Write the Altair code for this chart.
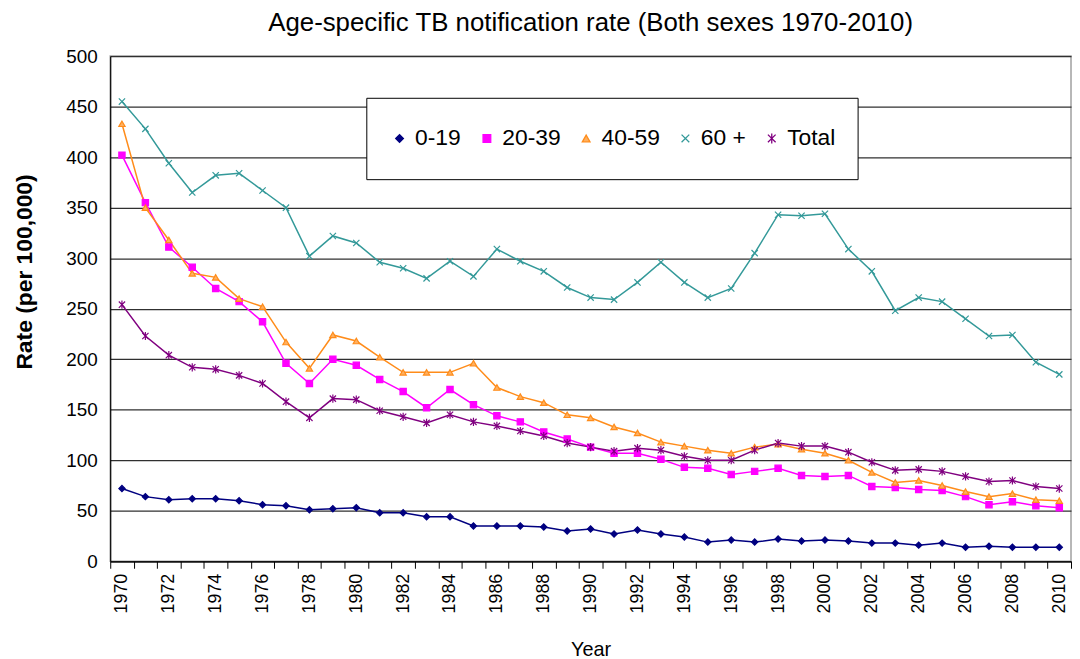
import altair as alt
import pandas as pd

years = list(range(1970, 2011))
series_names = ["0-19", "20-39", "40-59", "60 +", "Total"]

v_0_19 = [72, 64, 61, 62, 62, 60, 56, 55, 51, 52, 53, 48, 48, 44, 44, 35, 35, 35, 34, 30,
          32, 27, 31, 27, 24, 19, 21, 19, 22, 20, 21, 20, 18, 18, 16, 18, 14, 15, 14, 14, 14]
v_20_39 = [402, 355, 311, 291, 270, 257, 237, 196, 176, 200, 194, 180, 168, 152, 170, 155, 144, 138, 128, 121,
           113, 107, 107, 101, 93, 92, 86, 89, 92, 85, 84, 85, 74, 73, 71, 70, 64, 56, 59, 55, 53]
v_40_59 = [433, 350, 318, 285, 281, 260, 252, 217, 191, 224, 218, 202, 187, 187, 187, 196, 172, 163, 157, 145,
           142, 133, 127, 118, 114, 110, 107, 113, 116, 111, 107, 100, 88, 78, 80, 75, 69, 64, 67, 61, 60]
v_60 = [455, 428, 394, 365, 382, 384, 367, 350, 302, 322, 315, 296, 290, 280, 297, 282, 309, 297, 287, 271,
        261, 259, 276, 296, 276, 261, 270, 305, 343, 342, 344, 309, 287, 248, 261, 257, 240, 223, 224, 197, 185]
v_total = [254, 223, 204, 192, 190, 184, 176, 158, 142, 161, 160, 149, 143, 137, 145, 138, 134, 129, 124, 117,
           113, 109, 112, 110, 104, 100, 100, 110, 117, 114, 114, 108, 98, 90, 91, 89, 84, 79, 80, 74, 72]

series_values = [v_0_19, v_20_39, v_40_59, v_60, v_total]
rows = []
for name, vals in zip(series_names, series_values):
    for y, v in zip(years, vals):
        rows.append({"Year": y, "Rate": v, "series": name})
df = pd.DataFrame(rows)

stroke_colors = ["#000080", "#FF00FF", "#FF8C1A", "#339999", "#800080"]
fill_colors = ["#000080", "#FF00FF", "#FFB060", "#339999", "#800080"]
shapes = ["diamond", "square", "triangle-up",
          "M-1,-1L1,1M1,-1L-1,1",
          "M-1,-1L1,1M1,-1L-1,1M0,-1.3L0,1.3"]

font = "Liberation Sans"

x_enc = alt.X("Year:O", bandPosition=0.5,
              scale=alt.Scale(type="band", paddingInner=0, paddingOuter=0),
              axis=alt.Axis(title="Year", tickBand="extent",
                            labelExpr="datum.value % 2 == 0 ? datum.label : ''",
                            labelAngle=270, labelFontSize=18, labelPadding=5,
                            titleFontSize=20, titleFontWeight="normal", titlePadding=27,
                            tickSize=7, tickColor="black", domainColor="black",
                            domainWidth=1.2, grid=False))
y_enc = alt.Y("Rate:Q", scale=alt.Scale(domain=[0, 500]),
              axis=alt.Axis(title="Rate (per 100,000)", values=list(range(0, 501, 50)),
                            labelFontSize=19, labelPadding=13, tickSize=0,
                            titleFontSize=23, titleFontWeight="bold", titlePadding=30,
                            titleY=217,
                            grid=True, gridColor="#303030", gridWidth=1.2,
                            domainColor="black", domainWidth=1.2))

color_scale = alt.Scale(domain=series_names, range=stroke_colors)
fill_scale = alt.Scale(domain=series_names, range=fill_colors)
shape_scale = alt.Scale(domain=series_names, range=shapes)

legend = alt.Legend(title=None, orient="none", legendX=258, legendY=42,
                    direction="horizontal", labelFontSize=23, labelFont=font,
                    strokeColor="black", fillColor="white", padding=22,
                    clipHeight=38,
                    symbolSize=60, symbolStrokeWidth=1.3, columnPadding=14,
                    labelOffset=4, cornerRadius=0)

lines = alt.Chart(df).mark_line(strokeWidth=1.5).encode(
    x=x_enc, y=y_enc,
    color=alt.Color("series:N", scale=color_scale, legend=legend),
    detail="series:N",
)

points = alt.Chart(df).mark_point(filled=False, strokeWidth=1.2, opacity=1).encode(
    x=x_enc, y=y_enc,
    color=alt.Color("series:N", scale=color_scale, legend=legend),
    fill=alt.Fill("series:N", scale=fill_scale, legend=legend),
    shape=alt.Shape("series:N", scale=shape_scale, legend=legend),
    size=alt.value(40),
)

chart = alt.layer(lines, points).properties(
    width=968, height=509,
    padding={"left": 5, "top": 0, "right": 0, "bottom": 0},
    title=alt.Title("Age-specific TB notification rate (Both sexes 1970-2010)",
                    fontSize=26, fontWeight="normal", font=font, offset=11,
                    anchor="middle"),
).configure(font=font).configure_view(
    stroke="#A0A0A0", strokeWidth=1.5
).configure_axis(labelFont=font, titleFont=font, labelColor="black", titleColor="black")

chart.save("out.html", embed_options={"renderer": "svg", "actions": False})
